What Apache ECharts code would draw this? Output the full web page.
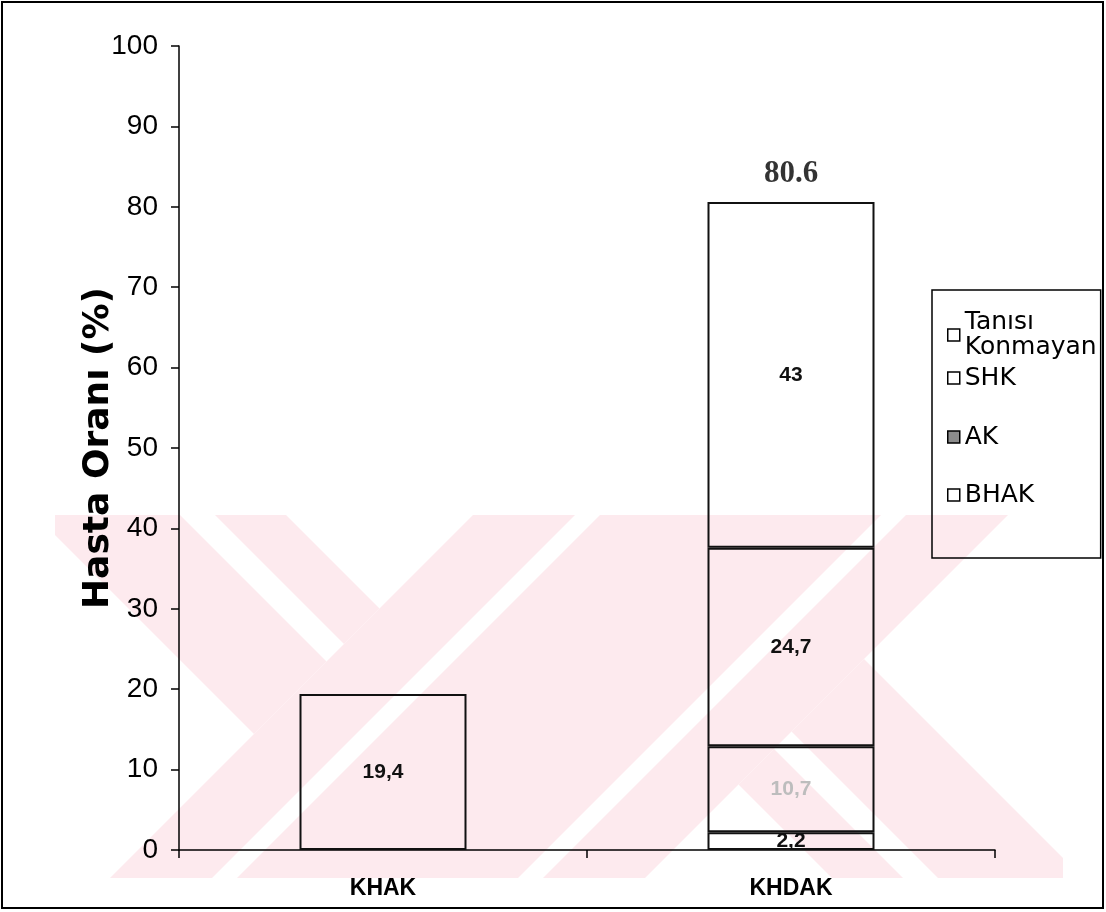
<!DOCTYPE html>
<html><head><meta charset="utf-8">
<script src="https://cdn.jsdelivr.net/npm/echarts@6/dist/echarts.min.js"></script>
<style>html,body{margin:0;padding:0;background:#fff}#c{width:1106px;height:912px}</style>
</head><body><div id="c"></div>
<script>
// ---- data ----
const categories = ['KHAK', 'KHDAK'];
const khakValues = [19.4, null];
const bhakValues = [null, 2.2];
const akValues = [null, 10.7];
const shkValues = [null, 24.7];
const tanisiValues = [null, 43];
const totalLabels = [null, 80.6];
const yMin = 0, yMax = 100, yInterval = 10;

const FONT = '"Liberation Sans", Arial, sans-serif';
const WIDE = '"DejaVu Sans", Verdana, sans-serif';
const chart = echarts.init(document.getElementById('c'), null, {renderer: 'canvas'});

// ---- background watermark (decoration, pixel space) ----
function clip(poly, a, b, c) { // keep a*x+b*y <= c
  const out = [];
  for (let i = 0; i < poly.length; i++) {
    const p = poly[i], q = poly[(i + 1) % poly.length];
    const fp = a * p[0] + b * p[1] - c, fq = a * q[0] + b * q[1] - c;
    if (fp <= 0) out.push(p);
    if ((fp < 0 && fq > 0) || (fp > 0 && fq < 0)) {
      const t = fp / (fp - fq);
      out.push([p[0] + t * (q[0] - p[0]), p[1] + t * (q[1] - p[1])]);
    }
  }
  return out;
}
function region(c) {
  let poly = [[55, 515], [1063, 515], [1063, 878], [55, 878]];
  if (c.uMin != null) poly = clip(poly, -1, 1, -c.uMin);
  if (c.uMax != null) poly = clip(poly, 1, -1, c.uMax);
  if (c.vMin != null) poly = clip(poly, -1, -1, -c.vMin);
  if (c.vMax != null) poly = clip(poly, 1, 1, c.vMax);
  return poly;
}
const wmRegions = [
  {uMin: -480, uMax: -335, vMax: 988},
  {uMin: -300, uMax: -229, vMax: 988},
  {vMin: 988, vMax: 1090},
  {vMin: 1115, vMax: 1396},
  {vMin: 1421, vMax: 1523},
  {uMin: 60, uMax: 205, vMin: 1523},
  {uMin: -46, uMax: 25, vMin: 1523}
];
const graphics = wmRegions.map(r => ({
  type: 'polygon', silent: true, z: -10,
  shape: {points: region(r)},
  style: {fill: '#fdeaee'}
}));
graphics.push({
  type: 'rect', silent: true, z: 100,
  shape: {x: 2, y: 2, width: 1101, height: 906},
  style: {fill: 'none', stroke: '#000', lineWidth: 2}
});

const segLabel = (color) => ({
  show: true, position: 'inside', color: color,
  fontFamily: FONT, fontWeight: 'bold', fontSize: 21,
  formatter: p => (p.value == null ? '' : String(p.value).replace('.', ','))
});
const barStyle = {color: 'rgba(255,255,255,0)', borderColor: '#111', borderWidth: 2};

function stackBar(name, data, labelColor) {
  return {
    name: name, type: 'bar', stack: 'total', data: data, barWidth: 167,
    itemStyle: barStyle, label: segLabel(labelColor), z: 3
  };
}

const legendIcon = {color: '#fff', borderColor: '#000', borderWidth: 1.5};

chart.setOption({
  backgroundColor: '#fff',
  animation: false,
  graphic: graphics,
  grid: {left: 179, right: 111, top: 46, bottom: 62, containLabel: false, outerBoundsMode: 'none'},
  legend: {
    orient: 'vertical', left: 932, top: 290,
    padding: [20, 4, 46, 15], itemGap: 0, itemWidth: 12, itemHeight: 12,
    borderColor: '#000', borderWidth: 1.5, backgroundColor: 'transparent',
    selectedMode: false, icon: 'rect',
    textStyle: {fontSize: 25, color: '#000', fontFamily: WIDE},
    formatter: n => (n === 'Tanısı Konmayan' ? 'Tanısı\nKonmayan' : n),
    data: [
      {name: 'Tanısı Konmayan', itemStyle: legendIcon, textStyle: {lineHeight: 25}},
      {name: 'SHK', itemStyle: legendIcon, textStyle: {lineHeight: 36}},
      {name: 'AK', itemStyle: {color: '#8c8c8c', borderColor: '#000', borderWidth: 1.5}, textStyle: {lineHeight: 82}},
      {name: 'BHAK', itemStyle: legendIcon, textStyle: {lineHeight: 34}}
    ]
  },
  xAxis: {
    type: 'category', data: categories,
    axisLine: {show: true, lineStyle: {color: '#000', width: 1.5}},
    axisTick: {show: true, length: 8, inside: false, alignWithLabel: false, lineStyle: {color: '#000', width: 1.5}},
    axisLabel: {fontSize: 23, fontWeight: 'bold', color: '#000', fontFamily: FONT, margin: 27},
    splitLine: {show: false}
  },
  yAxis: {
    type: 'value', min: yMin, max: yMax, interval: yInterval,
    name: 'Hasta Oranı (%)', nameLocation: 'middle', nameRotate: 90, nameGap: 62,
    nameMoveOverlap: false,
    nameTextStyle: {fontSize: 36, fontWeight: 'bold', color: '#000', fontFamily: WIDE},
    axisLine: {show: true, lineStyle: {color: '#000', width: 1.5}},
    axisTick: {show: true, length: 8, inside: false, lineStyle: {color: '#000', width: 1.5}},
    axisLabel: {fontSize: 28, color: '#000', fontFamily: FONT, margin: 21},
    splitLine: {show: false}
  },
  series: [
    {name: 'KHAK', type: 'bar', stack: 'total', data: khakValues, barWidth: 167,
     itemStyle: barStyle, label: segLabel('#111'), z: 3},
    stackBar('BHAK', bhakValues, '#111'),
    stackBar('AK', akValues, '#bdbdbd'),
    stackBar('SHK', shkValues, '#111'),
    stackBar('Tanısı Konmayan', tanisiValues, '#111'),
    {name: 'Toplam', type: 'scatter', data: totalLabels, symbolSize: 1,
     itemStyle: {color: 'rgba(0,0,0,0)'}, z: 5,
     label: {show: true, position: 'top', distance: 12, color: '#000', fontWeight: 'bold',
             fontFamily: '"Liberation Serif", "Times New Roman", serif', fontSize: 31,
             formatter: p => (p.value == null ? '' : Number(p.value).toFixed(1))}}
  ]
});
</script>
</body></html>
